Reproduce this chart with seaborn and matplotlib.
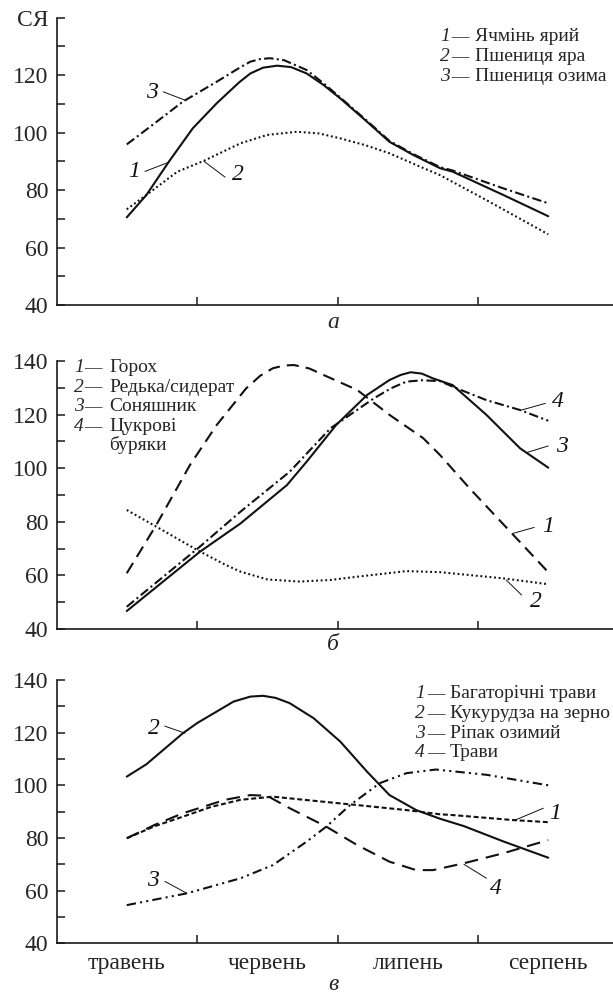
import numpy as np
import pandas as pd
import matplotlib
matplotlib.use("Agg")
import matplotlib.pyplot as plt
import seaborn as sns

# ---------------- data ----------------
months = ["травень", "червень", "липень", "серпень"]
month_pos = [0.5, 1.5, 2.5, 3.5]

# panel а
a_names = ["Ячмінь ярий", "Пшениця яра", "Пшениця озима"]
a1_x = [0.5, 0.64, 0.8, 0.97, 1.14, 1.3, 1.38, 1.47, 1.57, 1.67, 1.78, 1.9, 2.02, 2.21, 2.37, 2.54, 2.73, 2.82, 3.18, 3.5]
a1_y = [70.5, 78.3, 89.9, 101.5, 110.2, 117.5, 120.6, 122.6, 123.3, 122.8, 120.6, 116.6, 111.9, 103.8, 96.8, 92.2, 87.6, 86.4, 78.3, 70.9]
a2_x = [0.5, 0.64, 0.86, 1.05, 1.31, 1.5, 1.71, 1.87, 2.02, 2.2, 2.37, 2.59, 2.73, 3.06, 3.5]
a2_y = [73.3, 78.3, 86.4, 90.2, 96.3, 99.2, 100.3, 99.7, 98.0, 95.6, 92.8, 88.1, 85.2, 76.5, 64.6]
a3_x = [0.5, 0.7, 0.9, 1.14, 1.3, 1.38, 1.45, 1.52, 1.62, 1.78, 1.9, 2.02, 2.21, 2.37, 2.54, 2.73, 2.82, 3.18, 3.5]
a3_y = [95.9, 103.3, 110.8, 117.7, 122.5, 124.7, 125.6, 125.9, 125.2, 121.8, 117.2, 112.2, 104.1, 97.1, 92.5, 88.0, 86.8, 80.6, 75.4]

# panel б
b_names = ["Горох", "Редька/сидерат", "Соняшник", "Цукрові\nбуряки"]
b1_x = [0.5, 0.71, 0.95, 1.14, 1.35, 1.45, 1.54, 1.62, 1.69, 1.8, 1.9, 2.14, 2.37, 2.61, 2.73, 2.94, 3.23, 3.5]
b1_y = [60.8, 78.8, 101.2, 116.1, 129.8, 134.5, 137.3, 138.3, 138.5, 137.2, 134.8, 129.2, 119.9, 111.2, 104.9, 92.5, 76.3, 61.2]
b2_x = [0.5, 0.71, 1.0, 1.2, 1.31, 1.5, 1.73, 1.95, 2.14, 2.49, 2.73, 3.18, 3.5]
b2_y = [84.4, 78.2, 69.5, 64.0, 61.4, 58.5, 57.7, 58.3, 59.5, 61.6, 61.2, 58.9, 56.7]
b3_x = [0.5, 1.02, 1.31, 1.64, 1.78, 1.99, 2.21, 2.37, 2.45, 2.52, 2.6, 2.68, 2.82, 3.06, 3.3, 3.5]
b3_y = [46.7, 68.8, 79.4, 93.7, 102.4, 116.1, 127.3, 132.9, 134.8, 135.8, 135.3, 133.5, 131.0, 119.9, 107.4, 100.2]
b4_x = [0.5, 1.02, 1.31, 1.66, 1.95, 2.26, 2.38, 2.49, 2.6, 2.73, 2.82, 3.06, 3.3, 3.5]
b4_y = [48.3, 70.7, 83.8, 98.7, 114.9, 126.1, 129.8, 132.3, 132.8, 132.5, 130.4, 125.4, 121.7, 117.7]

# panel в
c_names = ["Багаторічні трави", "Кукурудза на зерно", "Ріпак озимий", "Трави"]
c1_x = [0.5, 0.7, 0.9, 1.1, 1.31, 1.54, 1.78, 2.14, 2.49, 2.73, 2.82, 3.25, 3.5]
c1_y = [79.9, 84.5, 88.1, 91.8, 94.5, 95.7, 94.4, 92.5, 90.6, 89.0, 88.7, 86.8, 86.0]
c2_x = [0.5, 0.64, 0.9, 1.0, 1.26, 1.38, 1.47, 1.56, 1.66, 1.83, 2.02, 2.21, 2.37, 2.56, 2.73, 2.9, 3.18, 3.5]
c2_y = [103.3, 108.0, 119.8, 123.6, 131.8, 133.7, 134.0, 133.2, 131.2, 125.5, 116.6, 105.2, 96.3, 90.6, 87.3, 84.5, 78.7, 72.5]
c3_x = [0.5, 0.93, 1.31, 1.54, 1.78, 1.92, 2.09, 2.3, 2.49, 2.7, 3.06, 3.5]
c3_y = [54.5, 59.0, 64.7, 69.7, 78.6, 84.3, 92.5, 100.8, 104.6, 106.0, 104.0, 100.0]
c4_x = [0.5, 0.7, 0.9, 1.2, 1.38, 1.5, 1.66, 1.92, 2.14, 2.37, 2.56, 2.68, 2.9, 3.18, 3.5]
c4_y = [79.9, 85.0, 89.4, 94.5, 96.3, 96.0, 91.3, 84.3, 77.3, 71.0, 67.8, 67.8, 70.4, 74.2, 79.2]

# ---------------- styles ----------------
sns.set_style("ticks")
plt.rcParams["font.family"] = ["Liberation Serif", "DejaVu Serif"]

W, H = 613, 998
fig = plt.figure(figsize=(W / 100, H / 100), dpi=100)

LW = 1.5
SOLID = "-"
DOTTED = (0, (0.9, 1.3))
DASHDOT = (0, (4.5, 1.6, 1.0, 1.6))
DASHED = (0, (5.8, 3.4))
SHORTDASH = (0, (2.4, 1.3))
LONGDASH = (0, (6.5, 3.8))
DASHDOTDOT = (0, (4.5, 2.0, 1.0, 2.0, 1.0, 2.0))

XMAX = (W - 56.5) / 140.5
TICK_FS = 17
LEG_FS = 14
DASH_FS = 12.5


def fx(px):
    return px / W


def fy(py):
    return 1 - py / H


def make_axes(top_px, bottom_px):
    ax = fig.add_axes([fx(56.5), fy(bottom_px), 1 - fx(56.5), (bottom_px - top_px) / H])
    return ax


def finish_axes(ax):
    ax.set_xlim(0, XMAX)
    ax.set_ylim(40, 140)
    sns.despine(ax=ax)
    for s in ("left", "bottom"):
        ax.spines[s].set_linewidth(1.2)
        ax.spines[s].set_color("#1a1a1a")
    ax.set_xticks([1, 2, 3])
    ax.set_xticklabels([])
    ax.set_yticks([40, 60, 80, 100, 120, 140])
    ax.set_yticks([50, 70, 90, 110, 130], minor=True)
    ax.tick_params(axis="both", which="both", direction="in", length=6, width=1.1,
                   color="#1a1a1a", labelsize=TICK_FS, pad=6)
    ax.set_xlabel("")
    ax.set_ylabel("")


def curve(ax, xs, ys, ls):
    df = pd.DataFrame({"x": xs, "y": ys})
    sns.lineplot(data=df, x="x", y="y", ax=ax, color="#111111", linewidth=LW,
                 linestyle=ls, sort=False, estimator=None)


def tag(ax, text, pos, start, end):
    ax.text(pos[0], pos[1], text, fontsize=TICK_FS, style="italic",
            ha="center", va="center", color="#111111")
    ax.plot([start[0], end[0]], [start[1], end[1]], color="#111111", lw=0.7)


def legend(nums, names, xnum, xdash, xname, baselines):
    for n, name, yb in zip(nums, names, baselines):
        fig.text(fx(xnum), fy(yb), n, fontsize=LEG_FS, style="italic", va="baseline", ha="left")
        fig.text(fx(xdash), fy(yb), "—", fontsize=DASH_FS, va="baseline", ha="left")
        lines = name.split("\n")
        for k, ln in enumerate(lines):
            fig.text(fx(xname), fy(yb + 19 * k), ln, fontsize=LEG_FS, va="baseline", ha="left")


# ---------------- panel а ----------------
ax1 = make_axes(17.7, 305)
curve(ax1, a1_x, a1_y, SOLID)
curve(ax1, a2_x, a2_y, DOTTED)
curve(ax1, a3_x, a3_y, DASHDOT)
finish_axes(ax1)
ax1.set_yticklabels(["40", "60", "80", "100", "120", "СЯ"])
tag(ax1, "3", (0.68, 114.0), (0.76, 114.2), (0.92, 111.2))
tag(ax1, "1", (0.55, 86.3), (0.63, 86.5), (0.805, 89.8))
tag(ax1, "2", (1.29, 85.4), (1.20, 84.5), (1.05, 90.0))
legend(["1", "2", "3"], a_names, 440, 451, 475, [41, 61, 81])
fig.text(fx(333), fy(322), "а", fontsize=TICK_FS, style="italic", ha="center", va="center")

# ---------------- panel б ----------------
ax2 = make_axes(361, 629)
curve(ax2, b1_x, b1_y, DASHED)
curve(ax2, b2_x, b2_y, DOTTED)
curve(ax2, b3_x, b3_y, SOLID)
curve(ax2, b4_x, b4_y, DASHDOT)
finish_axes(ax2)
ax2.set_yticklabels(["40", "60", "80", "100", "120", "140"])
tag(ax2, "4", (3.57, 124.8), (3.48, 124.2), (3.31, 121.7))
tag(ax2, "3", (3.60, 108.0), (3.50, 108.3), (3.35, 105.9))
tag(ax2, "1", (3.50, 78.2), (3.40, 77.9), (3.25, 75.7))
tag(ax2, "2", (3.41, 50.2), (3.31, 52.7), (3.20, 58.3))
legend(["1", "2", "3", "4"], b_names, 74, 84, 109, [372, 391.5, 411, 431])
fig.text(fx(333), fy(645), "б", fontsize=TICK_FS, style="italic", ha="center", va="center")

# ---------------- panel в ----------------
ax3 = make_axes(680, 943.3)
curve(ax3, c1_x, c1_y, SHORTDASH)
curve(ax3, c2_x, c2_y, SOLID)
curve(ax3, c3_x, c3_y, DASHDOTDOT)
curve(ax3, c4_x, c4_y, LONGDASH)
finish_axes(ax3)
ax3.set_yticklabels(["40", "60", "80", "100", "120", "140"])
ax3.set_xticks(month_pos, minor=True)
ax3.set_xticklabels(months, minor=True)
ax3.tick_params(axis="x", which="minor", length=0, labelsize=TICK_FS, pad=7)
tag(ax3, "2", (0.69, 121.7), (0.77, 122.5), (0.915, 119.8))
tag(ax3, "3", (0.69, 64.0), (0.772, 63.5), (0.927, 59.0))
tag(ax3, "1", (3.55, 89.4), (3.465, 91.3), (3.264, 86.8))
tag(ax3, "4", (3.13, 60.9), (3.06, 64.7), (2.90, 70.0))
legend(["1", "2", "3", "4"], c_names, 415, 427, 450, [698.5, 718.5, 738, 757])
fig.text(fx(333), fy(985), "в", fontsize=TICK_FS, style="italic", ha="center", va="center")

fig.savefig("out.png", dpi=100)
